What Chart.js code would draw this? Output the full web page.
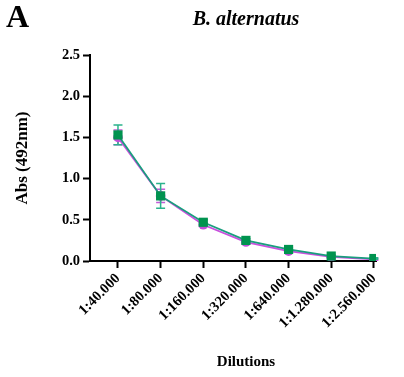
<!DOCTYPE html>
<html>
<head>
<meta charset="utf-8">
<script src="https://cdn.jsdelivr.net/npm/chart.js@4/dist/chart.umd.min.js"></script>
<style>
  html, body { margin: 0; padding: 0; background: #fff; }
  #wrap { width: 404px; height: 377px; }
</style>
</head>
<body>
<div id="wrap"><canvas id="chart" width="404" height="377"></canvas></div>
<script>
// Data
var dilutions = ['1:40.000', '1:80.000', '1:160.000', '1:320.000', '1:640.000', '1:1.280.000', '1:2.560.000'];
var greenMean = [1.53, 0.79, 0.47, 0.25, 0.14, 0.06, 0.03];
var greenErr = [0.12, 0.15, 0.03, 0.02, 0.02, 0.01, 0.01];
var magentaMean = [1.50, 0.79, 0.44, 0.23, 0.12, 0.05, 0.02];
var magentaErr = [0.09, 0.08, 0.02, 0.02, 0.01, 0.01, 0.01];
var yTicks = [0, 0.5, 1.0, 1.5, 2.0, 2.5];

var serif = '"Liberation Serif", "Times New Roman", serif';

function points(arr) {
    return arr.map(function(v, i) { return { x: i, y: v }; });
}

// error bars drawn with the chart scales
var errorBars = {
    id: 'errorBars',
    beforeDatasetsDraw: function(chart) {
        var ctx = chart.ctx;
        var xs = chart.scales.x, ys = chart.scales.y;
        chart.data.datasets.slice().reverse().forEach(function(ds) {
            ctx.save();
            ctx.strokeStyle = ds.errColor;
            ctx.lineWidth = 1.5;
            ds.data.forEach(function(p, i) {
                var e = ds.err[i];
                var px = xs.getPixelForValue(p.x);
                var top = ys.getPixelForValue(p.y + e);
                var bot = ys.getPixelForValue(p.y - e);
                ctx.beginPath();
                ctx.moveTo(px, top); ctx.lineTo(px, bot);
                ctx.moveTo(px - 4.5, top); ctx.lineTo(px + 4.5, top);
                ctx.moveTo(px - 4.5, bot); ctx.lineTo(px + 4.5, bot);
                ctx.stroke();
            });
            ctx.restore();
        });
    }
};

// panel letter, title and axis titles
var labels = {
    id: 'labels',
    afterDraw: function(chart) {
        var ctx = chart.ctx;
        ctx.save();
        ctx.fillStyle = '#000';
        ctx.textBaseline = 'middle';
        ctx.textAlign = 'left';
        ctx.font = 'bold 32px ' + serif;
        ctx.fillText('A', 6, 19);
        ctx.textAlign = 'center';
        ctx.font = 'italic bold 20px ' + serif;
        ctx.fillText('B. alternatus', 246, 20);
        ctx.font = 'bold 15px ' + serif;
        ctx.fillText('Dilutions', 246, 362);
        ctx.font = 'bold 17px ' + serif;
        ctx.translate(23, 158);
        ctx.rotate(-Math.PI / 2);
        ctx.fillText('Abs (492nm)', 0, 0);
        ctx.restore();
    }
};

var ctx = document.getElementById('chart').getContext('2d');
new Chart(ctx, {
    type: 'line',
    data: {
        datasets: [{
            label: 'green',
            data: points(greenMean),
            err: greenErr,
            errColor: '#2bb38c',
            borderColor: '#1a9e7e',
            backgroundColor: '#00934f',
            borderWidth: 1.8,
            pointStyle: 'rect',
            pointRadius: 6.5,
            pointBorderWidth: 0,
            tension: 0
        }, {
            label: 'magenta',
            data: points(magentaMean),
            err: magentaErr,
            errColor: '#c45ad8',
            borderColor: '#c94fdd',
            backgroundColor: '#c050d8',
            borderWidth: 1.8,
            pointStyle: 'circle',
            pointRadius: 4.8,
            pointBorderWidth: 0,
            tension: 0
        }]
    },
    options: {
        responsive: false,
        animation: false,
        layout: { padding: { left: 0, right: 28, top: 55, bottom: 0 } },
        plugins: {
            legend: { display: false },
            tooltip: { enabled: false }
        },
        scales: {
            x: {
                type: 'linear',
                min: -0.656,
                max: 6.05,
                afterBuildTicks: function(scale) {
                    scale.ticks = dilutions.map(function(d, i) { return { value: i }; });
                },
                afterFit: function(scale) { scale.height = 116; },
                grid: {
                    drawOnChartArea: false,
                    tickLength: 7,
                    tickWidth: 2,
                    tickColor: '#000'
                },
                border: { color: '#000', width: 2 },
                ticks: {
                    autoSkip: false,
                    minRotation: 45,
                    maxRotation: 45,
                    padding: 2,
                    color: '#000',
                    font: { family: serif, size: 14.5, weight: 'bold' },
                    callback: function(v) { return dilutions[v]; }
                }
            },
            y: {
                min: 0,
                max: 2.5,
                afterBuildTicks: function(scale) {
                    scale.ticks = yTicks.map(function(v) { return { value: v }; });
                },
                afterFit: function(scale) { scale.width = 90; },
                grid: {
                    drawOnChartArea: false,
                    tickLength: 7,
                    tickWidth: 2,
                    tickColor: '#000'
                },
                border: { color: '#000', width: 2 },
                ticks: {
                    padding: 3,
                    color: '#000',
                    font: { family: serif, size: 14.5, weight: 'bold' },
                    callback: function(v) { return v.toFixed(1); }
                }
            }
        }
    },
    plugins: [errorBars, labels]
});
</script>
</body>
</html>
